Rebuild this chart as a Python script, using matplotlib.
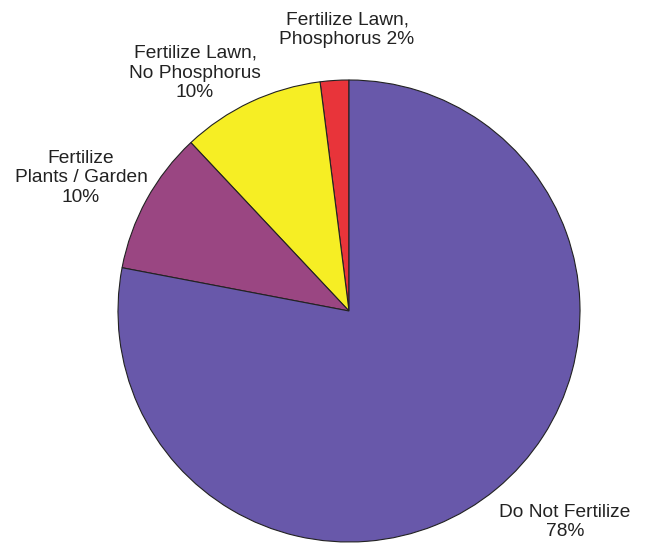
import matplotlib.pyplot as plt

# data
labels = ["Fertilize Lawn,\nPhosphorus 2%", "Fertilize Lawn,\nNo Phosphorus\n10%",
          "Fertilize\nPlants / Garden\n10%", "Do Not Fertilize\n78%"]
values = [2, 10, 10, 78]
colors = ["#E8343A", "#F6EE24", "#9A4682", "#6858AA"]

plt.rcParams['font.family'] = ['Liberation Sans', 'DejaVu Sans']

fig = plt.figure(figsize=(6.45, 5.46), dpi=100)
ax = fig.add_axes([0, 0, 1, 1])

# pie, counterclockwise from the top
ax.pie(values, colors=colors, startangle=90, counterclock=True,
       center=(349, 235), radius=231, frame=True,
       wedgeprops=dict(edgecolor='#222222', linewidth=0.8))
ax.set_aspect('equal')
ax.axis('off')
ax.set_xlim(0, 645)
ax.set_ylim(0, 546)

# label spots
spots = [(347, 516), (195, 473), (81, 368), (565, 24)]
for lab, (x, y) in zip(labels, spots):
    ax.text(x, y, lab, ha='center', va='center', fontsize=13.8,
            color='#222222', linespacing=1.2)

fig.savefig("out.png", dpi=100)
